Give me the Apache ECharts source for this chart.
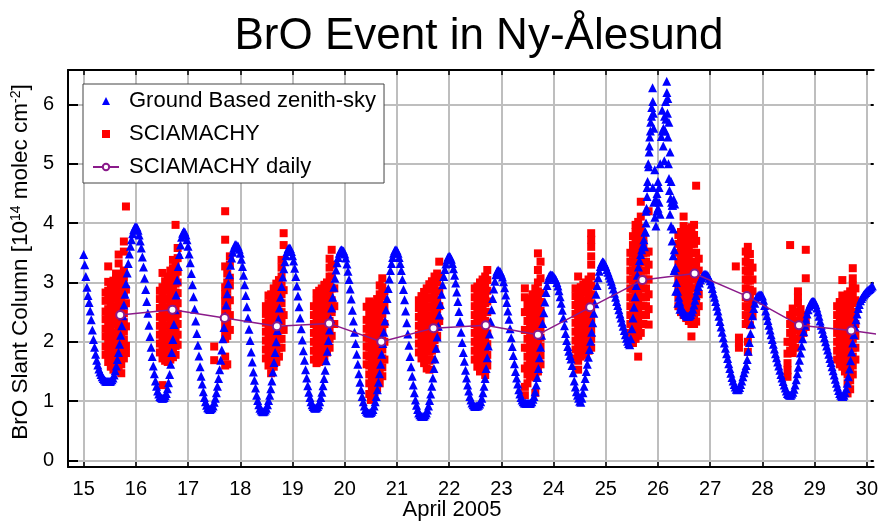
<!DOCTYPE html>
<html>
<head>
<meta charset="utf-8">
<script src="https://cdn.jsdelivr.net/npm/echarts@6/dist/echarts.min.js"></script>
<style>
html,body{margin:0;padding:0;background:#fff;}
#chart{width:881px;height:521px;}
</style>
</head>
<body>
<div id="chart"></div>
<script>
// ---------------- DATA ----------------
const titleText = 'BrO Event in Ny-Ålesund';
const xAxisTitle = 'April 2005';
const xTickDays = [15,16,17,18,19,20,21,22,23,24,25,26,27,28,29,30];
const yTickValues = [0,1,2,3,4,5,6];

// Ground based zenith-sky BrO slant columns, sampled every 30 minutes from 15 April 00:00
const gbStartDay = 15;
const gbStepDays = 1 / 48;
const gbValues = [
  3.47,3.30,3.10,2.92,2.78,2.66,2.52,2.37,2.20,2.04,1.91,1.79,1.69,1.61,1.54,1.49,1.45,1.41,1.38,1.36,1.34,1.33,1.33,1.33,1.33,
  1.34,1.36,1.39,1.44,1.51,1.59,1.70,1.82,1.96,2.11,2.27,2.44,2.62,2.80,2.98,3.16,3.32,3.48,3.61,3.72,3.82,3.89,3.93,3.94,
  3.93,3.88,3.80,3.70,3.58,3.43,3.26,3.07,2.88,2.68,2.48,2.28,2.09,1.91,1.75,1.59,1.46,1.34,1.25,1.17,1.12,1.08,1.06,1.05,
  1.05,1.06,1.09,1.13,1.21,1.31,1.45,1.62,1.82,2.04,2.29,2.54,2.79,3.04,3.27,3.47,3.63,3.76,3.83,3.86,
  3.85,3.80,3.72,3.61,3.48,3.33,3.15,2.96,2.76,2.55,2.35,2.14,1.94,1.76,1.58,1.42,1.29,1.16,1.06,0.99,0.93,0.89,0.87,0.86,
  0.87,0.89,0.92,0.98,1.05,1.14,1.25,1.38,1.53,1.69,1.86,2.05,2.24,2.43,2.62,2.81,2.98,3.13,3.29,3.41,3.51,3.58,3.63,3.64,3.62,
  3.61,3.56,3.49,3.39,3.27,3.12,2.96,2.78,2.59,2.40,2.21,2.02,1.83,1.66,1.49,1.35,1.22,1.10,1.01,0.94,0.88,0.85,0.83,0.82,
  0.83,0.85,0.88,0.94,1.01,1.10,1.21,1.34,1.49,1.65,1.82,2.00,2.19,2.38,2.57,2.75,2.93,3.09,3.23,3.35,3.45,3.52,3.57,3.58,
  3.57,3.52,3.45,3.36,3.24,3.10,2.94,2.77,2.59,2.40,2.22,2.03,1.85,1.69,1.53,1.39,1.26,1.15,1.06,0.99,0.94,0.91,0.89,0.88,
  0.89,0.91,0.94,0.99,1.06,1.15,1.26,1.38,1.52,1.68,1.84,2.02,2.20,2.39,2.57,2.75,2.92,3.07,3.21,3.33,3.42,3.49,3.54,3.55,3.54,
  3.53,3.48,3.41,3.31,3.19,3.05,2.89,2.72,2.53,2.35,2.16,1.97,1.79,1.62,1.46,1.32,1.19,1.08,0.99,0.92,0.86,0.83,0.81,0.80,0.80,
  0.81,0.83,0.86,0.92,0.99,1.08,1.19,1.32,1.46,1.62,1.79,1.97,2.16,2.35,2.54,2.73,2.90,3.06,3.20,3.32,3.42,3.49,3.54,3.55,
  3.54,3.49,3.42,3.32,3.20,3.05,2.88,2.71,2.52,2.32,2.13,1.94,1.75,1.58,1.42,1.27,1.14,1.02,0.93,0.86,0.80,0.77,0.75,0.74,0.74,
  0.75,0.77,0.80,0.85,0.92,1.01,1.12,1.25,1.39,1.55,1.71,1.89,2.08,2.26,2.45,2.63,2.80,2.96,3.10,3.22,3.31,3.38,3.43,3.44,
  3.43,3.39,3.32,3.23,3.12,2.99,2.84,2.68,2.51,2.34,2.16,1.99,1.82,1.67,1.52,1.39,1.27,1.17,1.08,1.02,0.97,0.94,0.92,0.91,0.92,
  0.92,0.93,0.95,0.99,1.05,1.14,1.25,1.38,1.55,1.73,1.93,2.13,2.34,2.54,2.73,2.89,3.02,3.13,3.19,3.21,3.19,
  3.18,3.14,3.09,3.01,2.91,2.79,2.66,2.52,2.38,2.22,2.07,1.92,1.77,1.63,1.50,1.39,1.29,1.19,1.12,1.06,1.02,0.99,0.97,0.97,0.96,0.96,0.96,
  0.96,0.97,0.99,1.03,1.08,1.16,1.27,1.40,1.55,1.73,1.91,2.11,2.31,2.49,2.67,2.83,2.95,3.05,3.11,3.13,
  3.12,3.12,3.10,3.08,3.05,3.00,2.94,2.86,2.76,2.65,2.53,2.40,2.27,2.14,2.02,1.92,1.84,1.77,1.71,1.60,1.48,1.34,1.24,1.16,1.10,1.05,1.00,0.98,
  1.05,1.14,1.25,1.38,1.50,1.62,1.74,1.87,2.01,2.16,2.32,2.48,2.64,2.80,2.95,3.08,3.19,3.27,3.32,3.35,
  3.34,3.31,3.27,3.22,3.17,3.12,3.07,3.02,2.96,2.89,2.82,2.75,2.68,2.61,2.54,2.47,2.40,2.33,2.26,2.19,2.12,2.06,2.01,1.97,1.95,
  2.05,2.22,2.40,2.58,2.76,2.95,3.12,3.26,3.37,3.47,3.55,3.62,3.72,3.85,4.20,4.60,5.00,5.30,5.55,5.80,6.28,
  5.60,4.90,4.40,4.20,4.25,4.60,5.00,5.46,5.55,5.60,5.80,6.05,6.39,6.10,5.70,5.20,4.70,4.30,3.90,3.55,3.25,3.00,
  2.85,2.75,2.67,2.60,2.55,2.51,2.48,2.46,2.44,2.43,2.43,2.44,2.46,2.50,2.55,2.62,2.70,2.78,2.86,2.93,2.99,3.04,3.08,3.11,3.13,3.14,3.14,3.13,3.11,3.07,
  3.03,2.97,2.90,2.82,2.75,2.68,2.60,2.52,2.43,2.34,2.25,2.16,2.07,1.98,1.89,1.80,1.72,1.63,1.55,1.47,1.40,1.34,1.28,1.24,1.20,1.19,1.20,1.23,1.28,1.34,
  1.41,1.48,1.54,1.60,1.70,1.84,1.99,2.14,2.30,2.44,2.56,2.65,2.72,2.76,2.78,2.79,2.79,2.79,2.77,
  2.70,2.61,2.52,2.44,2.36,2.28,2.20,2.12,2.04,1.96,1.88,1.80,1.73,1.66,1.59,1.52,1.45,1.39,1.33,1.27,1.22,1.17,1.13,1.11,1.10,1.10,1.12,1.15,1.20,1.27,
  1.36,1.46,1.57,1.69,1.81,1.93,2.05,2.17,2.28,2.38,2.47,2.54,2.60,2.64,2.67,2.68,2.68,2.67,
  2.63,2.57,2.50,2.43,2.35,2.28,2.21,2.14,2.07,2.00,1.93,1.86,1.79,1.72,1.65,1.58,1.51,1.44,1.37,1.30,1.24,1.18,1.13,1.10,1.08,1.08,1.10,1.14,1.21,1.30,
  1.41,1.54,1.68,1.83,1.98,2.12,2.25,2.37,2.47,2.56,2.63,2.69,2.73,2.76,2.79,2.81,2.83,2.85,2.87,2.88,2.90,2.92,2.94
];
// extra scattered zenith-sky values during the 25-26 April event [day, value]
const gbEventExtra = [
  [25.74,3.60],[25.76,3.85],[25.77,4.00],[25.78,4.25],[25.79,4.45],[25.80,4.70],[25.82,4.95],[25.83,5.20],
  [25.84,5.45],[25.86,5.70],[25.88,5.95],[25.90,6.05],[25.91,5.85],[25.90,4.60],[25.92,4.35],[25.94,4.10],
  [25.96,3.95],[25.98,4.50],[26.00,4.70],[26.02,4.35],[26.04,4.15],[26.08,5.90],[26.10,5.30],[26.12,5.05],
  [26.14,5.55],[26.15,5.75],[26.17,6.20],[26.18,5.85],[26.19,5.45],[26.20,5.00],[26.21,4.75],[26.22,4.55],
  [26.24,4.42],[26.26,4.35],[26.28,4.30],[26.30,4.40],[26.32,4.32],[26.23,4.15],[26.25,3.95],[26.27,3.70],
  [26.29,3.45],[26.31,3.20],[26.34,2.85],[26.38,2.65],[26.42,2.55]
];

// SCIAMACHY individual measurements: [day, [values...]]
const scia15 = [
  [15.42,[1.78,1.92,2.09,2.22,2.38,2.51,2.69,2.83]],
  [15.47,[1.66,1.80,1.97,2.10,2.26,2.41,2.55,2.72,2.86,3.01,3.27]],
  [15.52,[1.58,1.74,1.87,2.04,2.17,2.33,2.47,2.64,2.78,2.94]],
  [15.57,[1.53,1.68,1.82,1.98,2.12,2.29,2.42,2.58,2.73,2.88,3.03]],
  [15.62,[1.57,1.71,1.86,2.02,2.15,2.31,2.46,2.60,2.77,2.91,3.06,3.15]],
  [15.67,[1.50,1.65,1.80,1.95,2.10,2.25,2.40,2.55,2.70,2.85,3.00,3.32,3.47]],
  [15.72,[1.47,1.62,1.77,1.93,2.07,2.23,2.37,2.53,2.67,2.82,2.98,3.10]],
  [15.77,[1.72,1.87,2.03,2.17,2.33,2.48,2.63,2.79,2.93,3.08,3.20,3.52,3.69]],
  [15.81,[1.81,1.93,2.26,2.65,2.88,4.28]]
];
const scia16 = [
  [16.46,[1.82,1.97,2.12,2.27,2.42,2.57,2.72,2.86]],
  [16.51,[1.27,1.72,1.87,2.02,2.17,2.32,2.47,2.62,2.77,2.92,3.16]],
  [16.56,[1.68,1.83,1.98,2.13,2.28,2.43,2.58,2.73,2.88,3.02]],
  [16.61,[1.66,1.81,1.96,2.11,2.26,2.41,2.56,2.71,2.86,3.00,3.10]],
  [16.66,[1.70,1.85,2.00,2.15,2.30,2.45,2.60,2.75,2.90,3.05,3.20]],
  [16.71,[1.74,1.89,2.04,2.19,2.34,2.49,2.64,2.79,2.94,3.09,3.24,3.38]],
  [16.76,[1.78,1.93,2.08,2.23,2.38,2.53,2.68,2.83,2.98,3.13,3.30,3.97]],
  [16.80,[1.95,2.12,2.30,2.47,2.65,2.82,3.00,3.18,3.41,3.58]]
];
const scia17 = [
  [17.50,[1.69,1.92]],
  [17.71,[1.60,1.75,2.05,2.17,2.30,2.42,2.55,2.68,2.80,2.92,3.27,3.72,4.20]],
  [17.75,[1.62,2.10,2.25,2.38,2.50,2.62,2.75,2.88,3.00,3.15]],
  [17.80,[2.20,2.45,2.70,2.95,3.08,3.30,3.44]]
];
const scia18 = [
  [18.49,[1.72,1.87,2.02,2.17,2.32,2.47,2.60]],
  [18.54,[1.60,1.75,1.90,2.05,2.20,2.35,2.50,2.65,2.78]],
  [18.59,[1.47,1.62,1.77,1.92,2.07,2.22,2.37,2.52,2.67,2.80]],
  [18.64,[1.58,1.73,1.88,2.03,2.18,2.33,2.48,2.63,2.78,2.90]],
  [18.69,[1.66,1.81,1.96,2.11,2.26,2.41,2.56,2.71,2.86,2.98]],
  [18.74,[1.75,1.90,2.05,2.20,2.35,2.50,2.65,2.80,2.95,3.04]],
  [18.79,[1.90,2.05,2.20,2.35,2.50,2.65,2.80,2.95,3.10,3.25,3.38]],
  [18.83,[2.20,2.45,2.87,3.63,3.83]]
];
const scia19 = [
  [19.41,[1.70,1.85,2.00,2.15,2.30,2.45,2.60]],
  [19.46,[1.64,1.79,1.94,2.09,2.24,2.39,2.54,2.69,2.82]],
  [19.51,[1.66,1.81,1.96,2.11,2.26,2.41,2.56,2.71,2.86]],
  [19.56,[1.70,1.85,2.00,2.15,2.30,2.45,2.60,2.75,2.90]],
  [19.61,[1.76,1.91,2.06,2.21,2.36,2.51,2.66,2.81,2.96]],
  [19.66,[1.82,1.97,2.12,2.27,2.42,2.57,2.72,2.87,3.00]],
  [19.71,[1.90,2.05,2.20,2.35,2.50,2.65,2.80,2.95,3.10,3.25,3.40]],
  [19.75,[2.10,2.30,2.50,2.70,2.90,3.10,3.30,3.55]],
  [19.80,[2.30,2.60,2.90]]
];
const scia20 = [
  [20.42,[1.62,1.77,1.92,2.07,2.22,2.37,2.59]],
  [20.47,[1.12,1.30,1.45,1.60,1.75,1.90,2.05,2.20,2.35,2.50,2.68]],
  [20.50,[1.02]],
  [20.52,[1.08,1.24,1.39,1.54,1.69,1.84,1.99,2.14,2.29,2.44,2.60]],
  [20.57,[1.15,1.30,1.45,1.60,1.75,1.90,2.05,2.20,2.35,2.50,2.65]],
  [20.62,[1.22,1.37,1.52,1.67,1.82,1.97,2.12,2.27,2.42,2.57,2.72]],
  [20.67,[1.30,1.45,1.60,1.75,1.90,2.05,2.20,2.35,2.50,2.65,2.80,2.95]],
  [20.72,[1.42,1.57,1.72,1.87,2.02,2.17,2.32,2.47,2.62,2.77,2.92,3.07]],
  [20.76,[1.70,2.00,2.30,2.60,2.85]]
];
const scia21 = [
  [21.42,[1.82,1.97,2.12,2.27,2.42,2.57,2.70]],
  [21.47,[1.72,1.87,2.02,2.17,2.32,2.47,2.62,2.77]],
  [21.52,[1.64,1.79,1.94,2.09,2.24,2.39,2.54,2.69,2.84]],
  [21.57,[1.55,1.70,1.85,2.00,2.15,2.30,2.45,2.60,2.75,2.90]],
  [21.62,[1.53,1.68,1.83,1.98,2.13,2.28,2.43,2.58,2.73,2.88,2.97]],
  [21.67,[1.70,1.85,2.00,2.15,2.30,2.45,2.60,2.75,2.90,3.02]],
  [21.72,[1.88,2.03,2.18,2.33,2.48,2.63,2.78,2.93,3.10]],
  [21.77,[2.10,2.25,2.40,2.55,2.70,2.85,3.00,3.15]],
  [21.81,[2.35,2.60,2.85,3.10,3.35]]
];
const scia22 = [
  [22.49,[1.70,1.85,2.00,2.15,2.30,2.45,2.60,2.75,2.90]],
  [22.54,[1.58,1.73,1.88,2.03,2.18,2.33,2.48,2.63,2.78,2.93]],
  [22.59,[1.50,1.65,1.80,1.95,2.10,2.25,2.40,2.55,2.70,2.85,3.00]],
  [22.64,[1.53,1.68,1.83,1.98,2.13,2.28,2.43,2.58,2.73,2.88,3.05]],
  [22.69,[1.44,1.60,1.75,1.90,2.05,2.20,2.35,2.50,2.65,2.80,2.95,3.10]],
  [22.73,[1.60,1.78,1.96,2.14,2.32,2.50,2.68,2.86,3.04,3.21]]
];
const scia23 = [
  [23.45,[1.10,1.24,1.55,1.90,2.20,2.50,2.75,2.90]],
  [23.50,[1.30,1.45,1.60,1.75,1.90,2.05,2.20,2.35,2.50,2.62]],
  [23.55,[1.42,1.57,1.72,1.87,2.02,2.17,2.32,2.47,2.62,2.72]],
  [23.60,[1.45,1.60,1.75,1.90,2.05,2.20,2.35,2.50,2.65,2.80]],
  [23.65,[1.14,1.40,1.55,1.70,1.85,2.00,2.15,2.30,2.45,2.60,2.75,2.90]],
  [23.70,[1.50,1.65,1.80,1.95,2.10,2.25,2.40,2.55,2.70,2.85,3.00,3.21,3.49]],
  [23.75,[1.62,1.77,1.92,2.07,2.22,2.37,2.52,2.67,2.82,3.07,3.35]]
];
const scia24 = [
  [24.42,[1.72,1.87,2.02,2.17,2.32,2.47,2.62,2.77,2.90]],
  [24.47,[1.53,1.68,1.83,1.98,2.13,2.28,2.43,2.58,2.73,2.88,3.10]],
  [24.52,[1.75,1.90,2.05,2.20,2.35,2.50,2.65,2.80,2.92]],
  [24.57,[1.78,1.93,2.08,2.23,2.38,2.53,2.68,2.83,2.96]],
  [24.62,[1.80,1.95,2.10,2.25,2.40,2.55,2.70,2.85,3.00]],
  [24.67,[1.85,2.00,2.15,2.30,2.45,2.60,2.75,2.90,3.05]],
  [24.72,[1.90,2.05,2.20,2.35,2.50,2.65,2.80,2.95,3.10,3.30,3.44,3.60,3.72,3.83]]
];
const scia25 = [
  [25.47,[2.00,2.15,2.30,2.45,2.60,2.75,2.90,3.05,3.20,3.35,3.50]],
  [25.52,[1.98,2.13,2.28,2.43,2.58,2.73,2.88,3.03,3.18,3.33,3.48,3.63,3.78]],
  [25.57,[2.05,2.20,2.35,2.50,2.65,2.80,2.95,3.10,3.25,3.40,3.55,3.70,3.85,3.97]],
  [25.62,[1.75,2.10,2.25,2.40,2.55,2.70,2.85,3.00,3.15,3.30,3.45,3.60,3.75,3.90,4.02]],
  [25.67,[2.15,2.30,2.45,2.60,2.75,2.90,3.05,3.20,3.35,3.50,3.65,3.80,3.92,4.11,4.36]],
  [25.72,[2.30,2.45,2.60,2.75,2.90,3.05,3.20,3.35,3.50,3.65,3.75]],
  [25.77,[2.45,2.60,2.75,2.90,3.05,3.20,3.35,3.50]],
  [25.82,[2.29,2.55,2.80,3.05,3.30,3.52,4.20]]
];
const scia26 = [
  [26.39,[2.60,2.75,2.90,3.05,3.20,3.35,3.50,3.65,3.80]],
  [26.44,[2.50,2.65,2.80,2.95,3.10,3.25,3.40,3.55,3.70,3.85]],
  [26.49,[2.45,2.60,2.75,2.90,3.05,3.20,3.35,3.50,3.65,3.80,3.95,4.11]],
  [26.54,[2.40,2.55,2.70,2.85,3.00,3.15,3.30,3.45,3.60,3.75,3.90]],
  [26.59,[2.35,2.50,2.65,2.80,2.95,3.10,3.25,3.40,3.55,3.70,3.85]],
  [26.64,[2.09,2.30,2.45,2.60,2.75,2.90,3.05,3.20,3.35,3.50,3.65,3.80,3.93]],
  [26.69,[2.30,2.45,2.60,2.75,2.90,3.05,3.20,3.35,3.50,3.65,3.80,3.97]],
  [26.73,[2.34,2.50,2.70,2.90,3.10,3.30,3.50,3.70,4.63]],
  [26.78,[2.60,2.80,3.00,3.20,3.40]]
];
const scia27 = [
  [27.49,[3.27]],
  [27.55,[1.90,1.98,2.07]],
  [27.68,[2.30,2.45,2.60,2.75,2.90,3.05,3.20,3.35,3.52]],
  [27.72,[1.83,2.00,2.43,2.58,2.73,2.88,3.03,3.18,3.33,3.48,3.60]],
  [27.76,[2.28,2.43,2.58,2.73,2.88,3.03,3.18,3.33,3.48]],
  [27.81,[2.45,2.65,2.85,3.05,3.25]]
];
const scia28 = [
  [28.48,[1.41,1.52,1.64,1.80,2.00]],
  [28.53,[1.85,2.00,2.15,2.30,2.45,3.63]],
  [28.58,[1.81,1.96,2.11,2.26,2.41,2.56]],
  [28.63,[1.90,2.05,2.20,2.35,2.50]],
  [28.68,[2.05,2.20,2.35,2.50,2.65,2.75,2.85]],
  [28.73,[2.10,2.25,2.40,2.55]],
  [28.78,[2.15,2.30,2.45]],
  [28.83,[2.25,2.40,3.07,3.55]]
];
const scia29 = [
  [29.43,[1.70,1.85,2.00,2.15,2.30,2.45,2.60]],
  [29.48,[1.62,1.77,1.92,2.07,2.22,2.37,2.52,2.67]],
  [29.53,[1.58,1.73,1.88,2.03,2.18,2.33,2.48,2.63,2.78,3.04]],
  [29.58,[1.50,1.65,1.80,1.95,2.10,2.25,2.40,2.55,2.70]],
  [29.63,[1.13,1.30,1.45,1.60,1.75,1.90,2.05,2.20,2.35,2.50,2.65,2.80]],
  [29.68,[1.20,1.35,1.50,1.65,1.80,1.95,2.10,2.25,2.40,2.55,2.70,2.85]],
  [29.73,[1.45,1.60,1.75,1.90,2.05,2.20,2.35,2.50,2.65,2.80,2.95,3.07,3.24]],
  [29.78,[1.70,1.90,2.10,2.30,2.50,2.70,2.90]]
];

// SCIAMACHY daily means
const sciaDailyDay = [15.7,16.7,17.7,18.7,19.7,20.7,21.7,22.7,23.7,24.7,25.7,26.7,27.7,28.7,29.7,30.7];
const sciaDailyVal = [2.45,2.54,2.40,2.26,2.31,2.00,2.23,2.28,2.12,2.58,3.04,3.15,2.77,2.28,2.19,2.07];

const seriesNames = ['Ground Based zenith-sky', 'SCIAMACHY', 'SCIAMACHY daily'];

// ---------------- BUILD ----------------
const FONT = '"Liberation Sans", Arial, Helvetica, sans-serif';
const gbData = gbValues.map((v, i) => [gbStartDay + i * gbStepDays, v]).concat(gbEventExtra);
const sciaDays = [scia15, scia16, scia17, scia18, scia19, scia20, scia21, scia22, scia23, scia24, scia25, scia26, scia27, scia28, scia29];
const sciaData = [];
sciaDays.forEach(day => day.forEach(col => col[1].forEach(v => sciaData.push([col[0], v]))));
const dailyData = sciaDailyDay.map((d, i) => [d, sciaDailyVal[i]]);

const chart = echarts.init(document.getElementById('chart'), null, {renderer: 'canvas'});
const gridColor = '#bebebe';
const X_MIN = 14.7, X_MAX = 30.13, Y_MIN = -0.11, Y_MAX = 6.58;

chart.setOption({
  animation: false,
  backgroundColor: '#fff',
  grid: {left: 68, right: 0, top: 70, bottom: 54, containLabel: false},
  graphic: [
    {type: 'text', x: 479, y: 37, z: 10,
     style: {text: titleText, font: '44px ' + FONT, fill: '#000', textAlign: 'center', textVerticalAlign: 'middle'}},
    {type: 'text', x: 452, y: 510, z: 10,
     style: {text: xAxisTitle, font: '22px ' + FONT, fill: '#000', textAlign: 'center', textVerticalAlign: 'middle'}}
  ],
  legend: {
    data: [
      {name: seriesNames[0], icon: 'path://M0,-1L1,1L-1,1Z'},
      {name: seriesNames[1], icon: 'path://M0,0L1,0L1,1L0,1Z'},
      {name: seriesNames[2]}
    ],
    orient: 'vertical',
    left: 83, top: 84,
    backgroundColor: '#fff',
    borderColor: '#444', borderWidth: 1,
    padding: [6, 8, 5, 9],
    itemGap: 11,
    itemWidth: 26, itemHeight: 8,
    symbolKeepAspect: true,
    textStyle: {fontSize: 22, color: '#000', fontFamily: FONT, padding: [0, 0, 0, 5]},
    z: 20
  },
  xAxis: [
    {type: 'value', position: 'bottom', min: X_MIN, max: X_MAX,
     axisLine: {onZero: false, lineStyle: {color: '#000', width: 2}},
     axisTick: {inside: true, length: 5, customValues: xTickDays, lineStyle: {color: '#000', width: 1.5}},
     axisLabel: {customValues: xTickDays, formatter: v => String(v), fontSize: 20, color: '#000', fontFamily: FONT, margin: 12},
     splitLine: {show: true, customValues: xTickDays, lineStyle: {color: gridColor, width: 2}}},
    {type: 'value', position: 'top', min: X_MIN, max: X_MAX,
     axisLine: {onZero: false, lineStyle: {color: '#000', width: 2}},
     axisTick: {inside: true, length: 5, customValues: xTickDays, lineStyle: {color: '#000', width: 1.5}},
     axisLabel: {show: false}, splitLine: {show: false}}
  ],
  yAxis: [
    {type: 'value', position: 'left', min: Y_MIN, max: Y_MAX,
     name: '{n|BrO Slant Column [10}{s|14}{n| molec cm}{s|-2}{n|]}',
     nameLocation: 'middle', nameRotate: 90, nameGap: 34,
     nameTextStyle: {padding: [0, 0, 0, 13], rich: {
       n: {fontSize: 22.5, fontFamily: FONT, color: '#000', lineHeight: 23},
       s: {fontSize: 14, fontFamily: FONT, color: '#000', verticalAlign: 'top', lineHeight: 23}
     }},
     axisLine: {onZero: false, lineStyle: {color: '#000', width: 2}},
     axisTick: {inside: true, length: 10, customValues: yTickValues, lineStyle: {color: '#000', width: 2}},
     axisLabel: {customValues: yTickValues, formatter: v => String(v), fontSize: 20, color: '#000', fontFamily: FONT, margin: 14},
     splitLine: {show: true, customValues: yTickValues, lineStyle: {color: gridColor, width: 2}}},
    {type: 'value', position: 'right', min: Y_MIN, max: Y_MAX,
     axisLine: {show: false, onZero: false},
     axisTick: {inside: true, length: 3, customValues: yTickValues, lineStyle: {color: '#000', width: 2}},
     axisLabel: {show: false}, splitLine: {show: false}}
  ],
  series: [
    {name: seriesNames[1], type: 'scatter', data: sciaData, symbol: 'rect', symbolSize: 8,
     itemStyle: {color: '#ff0000', opacity: 1}, z: 2, silent: true},
    {name: seriesNames[0], type: 'scatter', data: gbData, symbol: 'triangle', symbolSize: 9,
     itemStyle: {color: '#0000ff', opacity: 1}, z: 3, silent: true},
    {name: seriesNames[2], type: 'line', data: dailyData, symbol: 'emptyCircle', symbolSize: 8,
     showAllSymbol: true,
     lineStyle: {color: '#8a1a8a', width: 1.5},
     itemStyle: {color: '#8a1a8a', borderWidth: 2},
     z: 4, silent: true}
  ]
});
</script>
</body>
</html>
